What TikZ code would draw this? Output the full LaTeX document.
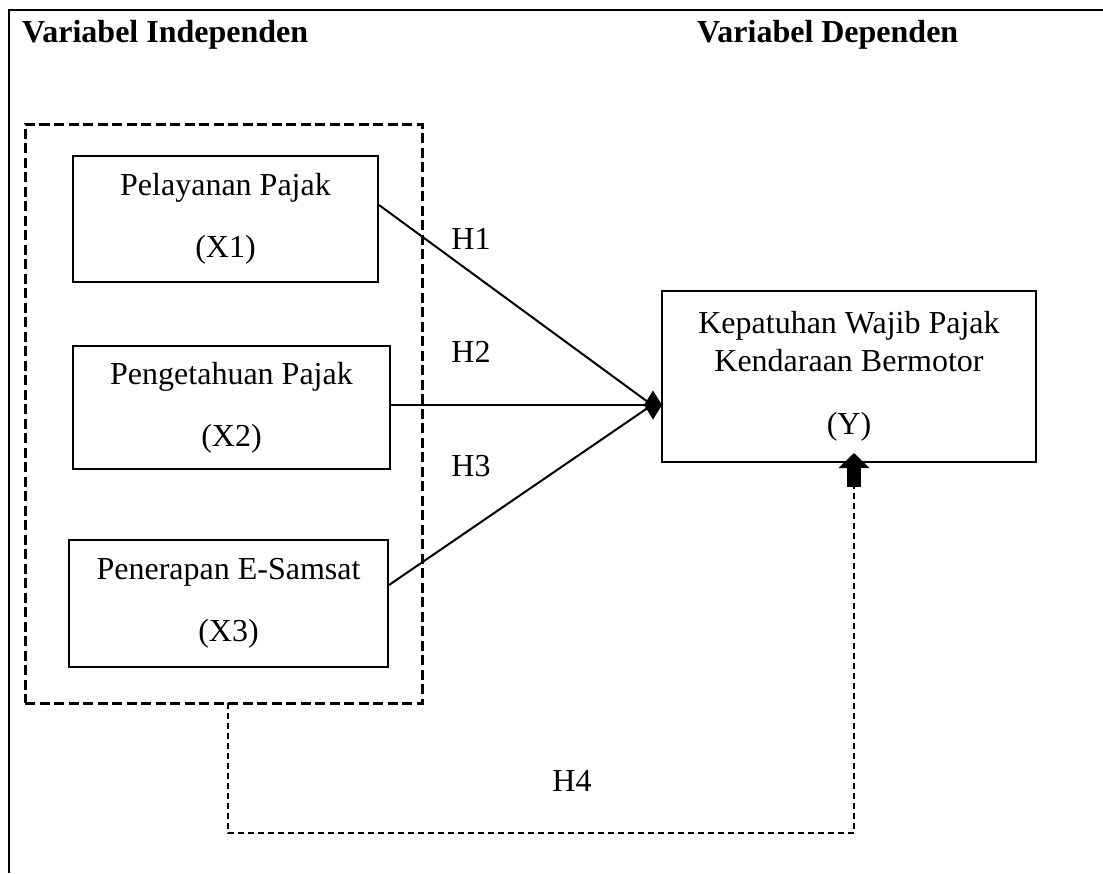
\documentclass[tikz,border=0pt]{standalone}
\usepackage{fontspec}
\setmainfont{Liberation Serif}
\usetikzlibrary{arrows.meta}
\begin{document}
\begin{tikzpicture}[x=1pt,y=-1pt,
  every node/.style={font=\fontsize{32}{38}\selectfont},
  varbox/.style={draw,line width=2pt,align=center,inner sep=0pt},
  header/.style={anchor=base west,inner sep=0pt,font=\fontsize{32}{38}\selectfont\bfseries},
  hlabel/.style={anchor=base,inner sep=0pt},
  groupbox/.style={draw,line width=3pt,dash pattern=on 10pt off 4.5pt,inner sep=0pt},
  link/.style={line width=2pt},
  diamondlink/.style={line width=2pt,-{Diamond[length=18pt,width=29pt]}},
  h4line/.style={line width=1.6pt,dash pattern=on 6pt off 4pt},
  blockarrow/.style={line width=14pt,-{Triangle[width=30pt,length=15pt]}}
]
\useasboundingbox (0,0) rectangle (1103,873);
% frame
\draw[line width=2.5pt] (9,873) -- (9,10) -- (1103,10);
% headers
\node[header] (hind) at (22,42) {Variabel Independen};
\node[header] (hdep) at (697,42) {Variabel Dependen};
% group box
\node[groupbox,minimum width=397pt,minimum height=579pt] (indep) at (223.5,413.5) {};
% boxes
\node[varbox,minimum width=305pt,minimum height=126pt] (X1) at (225.5,219) {Pelayanan Pajak\\[24pt](X1)};
\node[varbox,minimum width=317pt,minimum height=123pt] (X2) at (231.5,407.5) {Pengetahuan Pajak\\[24pt](X2)};
\node[varbox,minimum width=319pt,minimum height=127pt] (X3) at (228.5,603.5) {Penerapan E-Samsat\\[24pt](X3)};
\node[varbox,minimum width=374pt,minimum height=171pt] (Y) at (849,376.5) {Kepatuhan Wajib Pajak\\Kendaraan Bermotor\\[25pt](Y)};
% connectors
\coordinate (yin) at (662,405);
\coordinate (dc) at (652,405);
\draw[link] ([yshift=14pt]X1.east) -- (dc);
\draw[link] ([yshift=18.5pt]X3.east) -- (dc);
\draw[diamondlink] (X2.east |- yin) -- (yin);
% H4
\coordinate (h4s) at (228,703);
\coordinate (h4e) at (854,487);
\draw[h4line] (h4s) -- (228,833) -| (h4e);
\draw[blockarrow] (h4e) -- ([yshift=10pt]Y.south -| h4e);
% labels
\node[hlabel] (H1) at (471,249) {H1};
\node[hlabel] (H2) at (471,362) {H2};
\node[hlabel] (H3) at (471,476) {H3};
\node[hlabel] (H4) at (572,791) {H4};
\end{tikzpicture}
\end{document}
